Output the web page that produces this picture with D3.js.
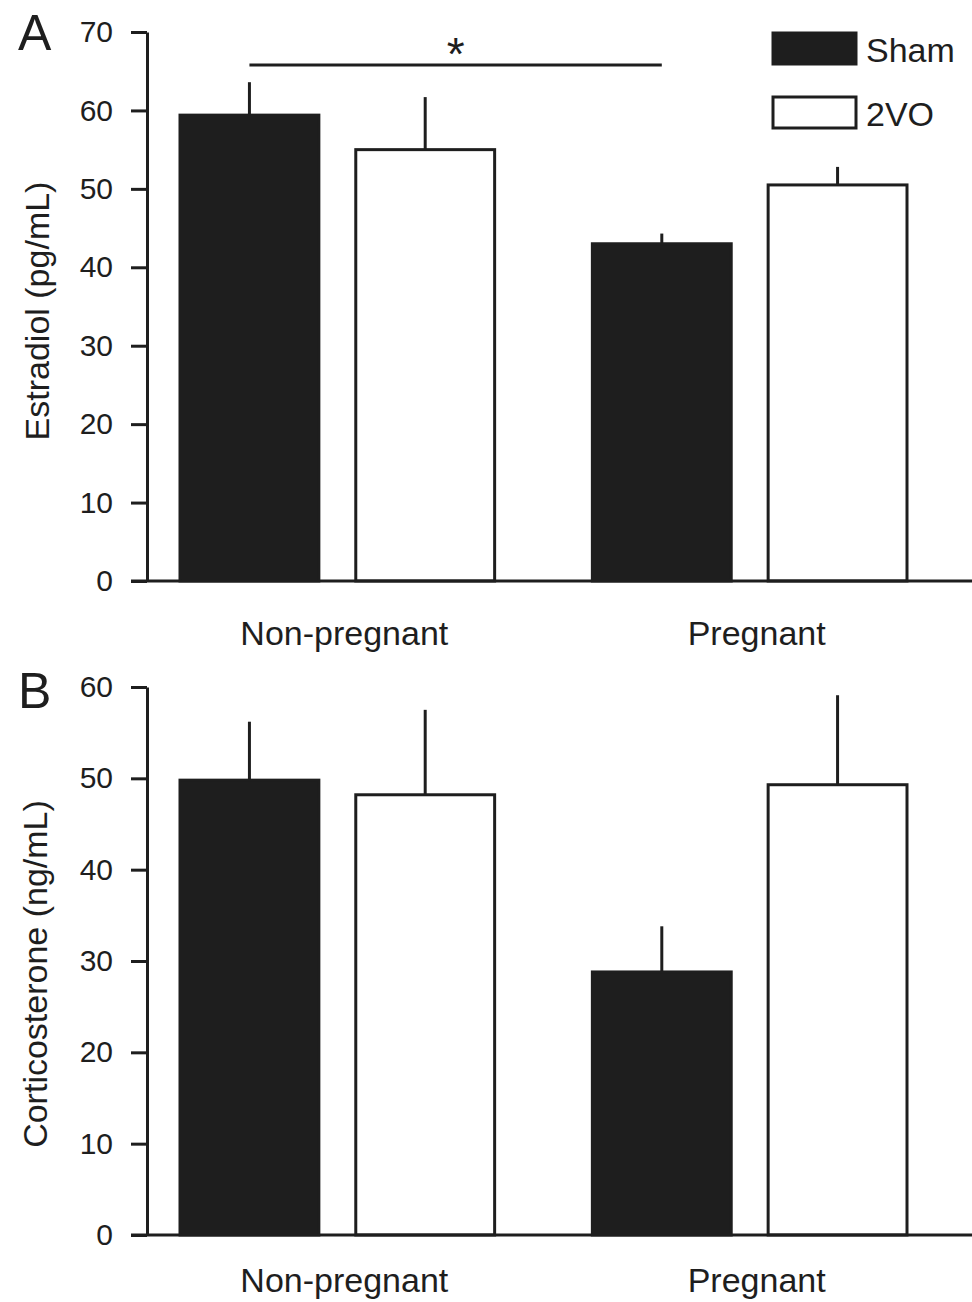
<!DOCTYPE html>
<html>
<head>
<meta charset="utf-8">
<script src="https://cdn.jsdelivr.net/npm/d3@7"></script>
<style>
  body { margin: 0; background: #fff; }
  svg text { font-family: "Liberation Sans", Arial, sans-serif; fill: #1e1e1e; }
</style>
</head>
<body>
<svg id="chart" width="972" height="1302"></svg>
<script>
'use strict';

// groups and series
var categories = ["Non-pregnant", "Pregnant"];
var series = ["Sham", "2VO"];

// panel A - estradiol, mean and top of the SEM bar
var estradiolMean = [[59.4, 55.0], [43.0, 50.5]];
var estradiolErr  = [[63.6, 61.7], [44.3, 52.8]];
var estradiolTicks = [0, 10, 20, 30, 40, 50, 60, 70];

// panel B - corticosterone
var corticoMean = [[49.8, 48.2], [28.8, 49.3]];
var corticoErr  = [[56.2, 57.5], [33.8, 59.1]];
var corticoTicks = [0, 10, 20, 30, 40, 50, 60];

var ink = "#1e1e1e";
var svg = d3.select("#chart");

var x0 = d3.scaleBand().domain(categories).range([180, 907]).paddingInner(0.237).paddingOuter(0);
var x1 = d3.scaleBand().domain(series).range([0, x0.bandwidth()]).paddingInner(0.21);

function panel(opts) {
  var y = d3.scaleLinear().domain([0, d3.max(opts.ticks)]).range([opts.bottom, opts.top]);
  var g = svg.append("g");

  // bars
  categories.forEach(function(cat, ci) {
    series.forEach(function(s, si) {
      var v = opts.mean[ci][si];
      var bx = x0(cat) + x1(s);
      // error bar (upper only)
      g.append("line")
        .attr("x1", bx + x1.bandwidth() / 2).attr("x2", bx + x1.bandwidth() / 2)
        .attr("y1", y(v)).attr("y2", y(opts.err[ci][si]))
        .attr("stroke", ink).attr("stroke-width", 3);
      g.append("rect")
        .attr("x", bx).attr("y", y(v))
        .attr("width", x1.bandwidth()).attr("height", y(0) - y(v))
        .attr("fill", si === 0 ? ink : "#fff")
        .attr("stroke", ink).attr("stroke-width", 3);
    });
  });

  // y axis
  var axis = g.append("g")
    .attr("transform", "translate(147,0)")
    .call(d3.axisLeft(y).tickValues(opts.ticks).tickSize(16).tickSizeOuter(0).tickPadding(18));
  axis.select(".domain").attr("stroke", ink).attr("stroke-width", 3);
  axis.selectAll(".tick line").attr("stroke", ink).attr("stroke-width", 3);
  axis.selectAll(".tick text").attr("font-size", 30).attr("font-family", "Liberation Sans, Arial, sans-serif").attr("fill", ink);

  // x baseline
  g.append("line")
    .attr("x1", 131).attr("x2", 972)
    .attr("y1", y(0)).attr("y2", y(0))
    .attr("stroke", ink).attr("stroke-width", 3);

  // category labels
  g.selectAll(".cat").data(categories).enter().append("text")
    .attr("x", function(d) { return x0(d) + x0.bandwidth() / 2 + 7; })
    .attr("y", opts.catY)
    .attr("text-anchor", "middle")
    .attr("font-size", 34)
    .text(function(d) { return d; });

  // y title
  g.append("text")
    .attr("transform", "translate(" + opts.titleX + "," + opts.titleY + ") rotate(-90)")
    .attr("text-anchor", "middle")
    .attr("font-size", 34)
    .text(opts.title);

  // panel letter
  g.append("text")
    .attr("x", 18).attr("y", opts.letterY)
    .attr("font-size", 50)
    .text(opts.letter);

  return { y: y, g: g };
}

var a = panel({
  mean: estradiolMean, err: estradiolErr, ticks: estradiolTicks,
  top: 32, bottom: 581, catY: 645, title: "Estradiol (pg/mL)",
  titleX: 49, titleY: 311, letter: "A", letterY: 50
});

// significance bar between Sham groups
var sigLeft = x0(categories[0]) + x1(series[0]) + x1.bandwidth() / 2;
var sigRight = x0(categories[1]) + x1(series[0]) + x1.bandwidth() / 2;
a.g.append("line")
  .attr("x1", sigLeft).attr("x2", sigRight)
  .attr("y1", a.y(65.8)).attr("y2", a.y(65.8))
  .attr("stroke", ink).attr("stroke-width", 3);
a.g.append("text")
  .attr("x", (sigLeft + sigRight) / 2)
  .attr("y", a.y(65.8) + 5)
  .attr("text-anchor", "middle")
  .attr("font-size", 46)
  .text("*");

// legend
var legend = a.g.append("g");
series.forEach(function(s, i) {
  legend.append("rect")
    .attr("x", 773).attr("y", 33 + i * 64)
    .attr("width", 83).attr("height", 31)
    .attr("fill", i === 0 ? ink : "#fff")
    .attr("stroke", ink).attr("stroke-width", 3);
  legend.append("text")
    .attr("x", 866).attr("y", 62 + i * 64)
    .attr("font-size", 34)
    .text(s);
});

panel({
  mean: corticoMean, err: corticoErr, ticks: corticoTicks,
  top: 687, bottom: 1235, catY: 1292, title: "Corticosterone (ng/mL)",
  titleX: 47, titleY: 974, letter: "B", letterY: 708
});
</script>
</body>
</html>
